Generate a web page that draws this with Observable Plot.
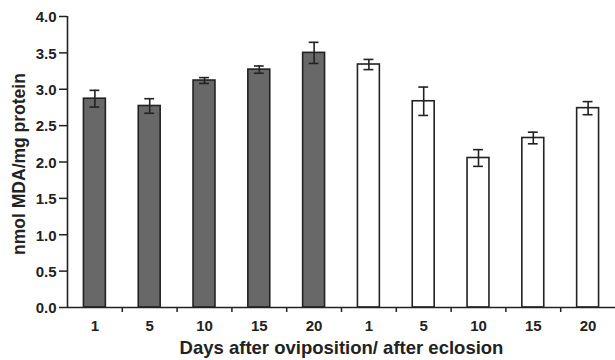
<!DOCTYPE html>
<html>
<head>
<meta charset="utf-8">
<script src="https://cdn.jsdelivr.net/npm/d3@7"></script>
<script src="https://cdn.jsdelivr.net/npm/@observablehq/plot@0.6"></script>
<style>
  html, body { margin: 0; padding: 0; background: #fff; }
</style>
</head>
<body>
<div id="chart"></div>
<script>
const labels = ["1", "5", "10", "15", "20", "1", "5", "10", "15", "20"];
const stages = ["oviposition", "oviposition", "oviposition", "oviposition", "oviposition",
                "eclosion", "eclosion", "eclosion", "eclosion", "eclosion"];
const means = [2.87, 2.77, 3.12, 3.27, 3.50, 3.34, 2.835, 2.055, 2.33, 2.74];
const errors = [0.115, 0.10, 0.04, 0.05, 0.145, 0.07, 0.195, 0.115, 0.08, 0.09];
const yTicks = [0, 0.5, 1, 1.5, 2, 2.5, 3, 3.5, 4];
const yTitle = "nmol MDA/mg protein";
const xTitle = "Days after oviposition/ after eclosion";

const data = labels.map((label, i) => ({
  i, label, stage: stages[i], value: means[i], err: errors[i]
}));
const boundaries = d3.range(1, labels.length);
const ink = "#222";
const fmt = d3.format(".1f");

const chart = Plot.plot({
  width: 615,
  height: 360,
  marginLeft: 67,
  marginRight: 0,
  marginTop: 16,
  marginBottom: 53,
  style: { fontFamily: "'Liberation Sans', Arial, sans-serif", fontWeight: "bold", color: ink, background: "#fff" },
  x: { domain: [0, labels.length] },
  y: { domain: [0, 4] },
  marks: [
    Plot.rectY(data, {
      x1: d => d.i + 0.3, x2: d => d.i + 0.7, y1: 0, y2: "value",
      fill: d => d.stage === "oviposition" ? "#686868" : "#ffffff",
      stroke: ink, strokeWidth: 1.6
    }),
    Plot.ruleX(data, { x: d => d.i + 0.5, y1: d => d.value - d.err, y2: d => d.value + d.err, stroke: ink, strokeWidth: 1.6 }),
    Plot.ruleY(data, { y: d => d.value + d.err, x1: d => d.i + 0.41, x2: d => d.i + 0.59, stroke: ink, strokeWidth: 1.6 }),
    Plot.ruleY(data, { y: d => d.value - d.err, x1: d => d.i + 0.41, x2: d => d.i + 0.59, stroke: ink, strokeWidth: 1.6 }),
    Plot.axisY({ ticks: yTicks, tickFormat: () => "", tickSize: 8, label: null, strokeWidth: 1.5 }),
    Plot.text(yTicks, { x: 0, y: d => d, text: d => fmt(d), textAnchor: "end", lineAnchor: "middle", dx: -11, dy: 1, fontSize: 15, fontWeight: "bold", fill: ink }),
    Plot.axisX({ ticks: boundaries, tickFormat: () => "", tickSize: 5, label: null, strokeWidth: 1.5 }),
    Plot.text(data, { x: d => d.i + 0.5, y: 0, text: "label", lineAnchor: "middle", dy: 19, fontSize: 15, fontWeight: "bold", fill: ink }),
    Plot.ruleY([0], { stroke: ink, strokeWidth: 1.6 }),
    Plot.ruleX([0], { stroke: ink, strokeWidth: 1.6 }),
    Plot.text([yTitle], { frameAnchor: "left", textAnchor: "middle", lineAnchor: "middle", rotate: -90, dx: -48, dy: 2, fontSize: 17.5, fontWeight: "bold", fill: ink }),
    Plot.text([xTitle], { frameAnchor: "bottom", textAnchor: "middle", lineAnchor: "middle", dy: 41, fontSize: 18.5, fontWeight: "bold", fill: ink })
  ]
});
document.getElementById("chart").appendChild(chart);
</script>
</body>
</html>
